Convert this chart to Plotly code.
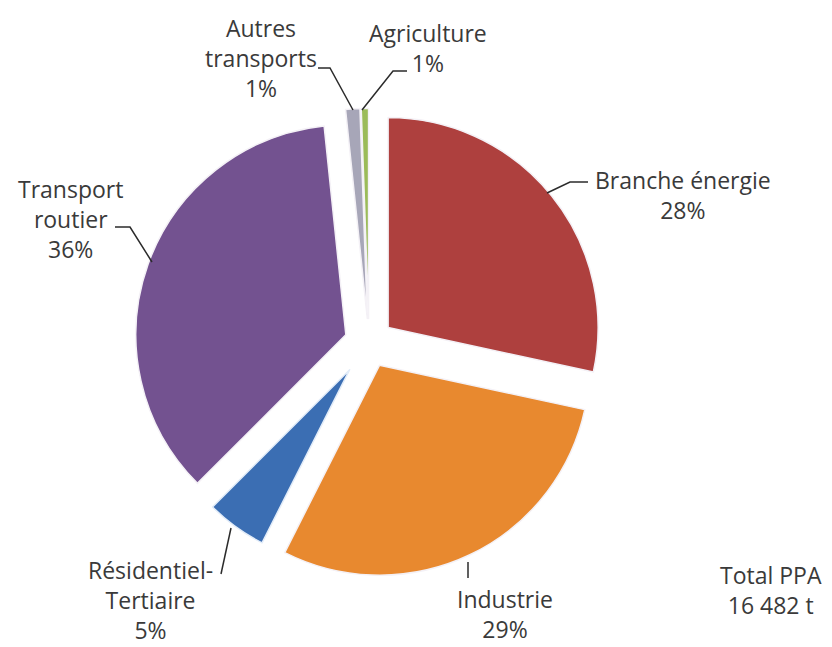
import plotly.graph_objects as go

# Emissions de PPA par secteur (tonnes), total 16 482 t
secteurs = ["Branche énergie", "Industrie", "Résidentiel-Tertiaire",
            "Transport routier", "Autres transports", "Agriculture"]
tonnes = [4680, 4790, 830, 5910, 180, 92]
couleurs = ["#AE403E", "#E8892F", "#3B6EB3", "#735290", "#A7A6B8", "#9BBB59"]
etiquettes = ["Branche énergie<br>28%", "Industrie<br>29%",
              "Résidentiel-<br>Tertiaire<br>5%", "Transport<br>routier<br>36%",
              "Autres<br>transports<br>1%", "Agriculture<br>1%"]
total_label = "Total PPA<br>16 482 t"

W, H = 832, 647
CX, CY = 369, 343          # centre of the pie, px
R_MAIN, PULL_MAIN = 210, 0.117
R_RES, PULL_RES = 194, 0.17
FONT = "Open Sans"
FSIZE = 23
TXT = "#3A3A3A"
NONE = "rgba(0,0,0,0)"


def dom(r, pull):
    half = r * (1 + pull)
    return dict(x=[(CX - half) / W, (CX + half) / W],
                y=[1 - (CY + half) / H, 1 - (CY - half) / H])


def px(x, y):
    return x / W, 1 - y / H


res = secteurs.index("Résidentiel-Tertiaire")

# main pie: every sector except the residential one
col1 = [NONE if i == res else c for i, c in enumerate(couleurs)]
lw1 = [0 if i == res else 1.5 for i in range(len(secteurs))]
# residential slice drawn on its own, smaller and pulled further
col2 = [couleurs[i] if i == res else NONE for i in range(len(secteurs))]
lw2 = [1.5 if i == res else 0 for i in range(len(secteurs))]
pull2 = [PULL_RES if i == res else 0 for i in range(len(secteurs))]

common = dict(labels=secteurs, values=tonnes, sort=False, direction="clockwise",
              rotation=0, textinfo="none", hoverinfo="skip", showlegend=False)

fig = go.Figure()
fig.add_trace(go.Pie(**common, domain=dom(R_MAIN, PULL_MAIN),
                     pull=[PULL_MAIN] * len(secteurs),
                     marker=dict(colors=col1,
                                 line=dict(color="#F4F1F6", width=lw1))))
fig.add_trace(go.Pie(**common, domain=dom(R_RES, PULL_RES), pull=pull2,
                     marker=dict(colors=col2,
                                 line=dict(color="#E2ECF8", width=lw2))))

# label positions (px) and leader lines (px polylines)
label_pos = [(683, 195), (505, 614), (150, 600), (70, 219), (261, 58), (428, 48)]
leaders = [
    [(588, 182), (570, 182), (547, 193)],
    [(468, 562), (468, 578)],
    [(221, 574), (231, 528)],
    [(115, 227), (130, 227), (152, 262)],
    [(318, 68), (330, 68), (353, 110)],
    [(407, 71), (393, 71), (362, 110)],
]

annotations = []
for (x, y), t in zip(label_pos, etiquettes):
    ax, ay = px(x, y)
    annotations.append(dict(x=ax, y=ay, xref="paper", yref="paper", text=t,
                            showarrow=False, align="center",
                            xanchor="center", yanchor="middle",
                            font=dict(family=FONT, size=FSIZE, color=TXT)))
tx, ty = px(771, 590)
annotations.append(dict(x=tx, y=ty, xref="paper", yref="paper", text=total_label,
                        showarrow=False, align="center", xanchor="center",
                        yanchor="middle",
                        font=dict(family=FONT, size=FSIZE, color=TXT)))

shapes = []
for pts in leaders:
    path = "M " + " L ".join(f"{px(x, y)[0]},{px(x, y)[1]}" for x, y in pts)
    shapes.append(dict(type="path", path=path, xref="paper", yref="paper",
                       line=dict(color="#2B2B2B", width=1.5)))

fig.update_layout(width=W, height=H, margin=dict(l=0, r=0, t=0, b=0),
                  paper_bgcolor="white", plot_bgcolor="white",
                  annotations=annotations, shapes=shapes,
                  font=dict(family=FONT, color=TXT))

fig.write_html("out.html")
